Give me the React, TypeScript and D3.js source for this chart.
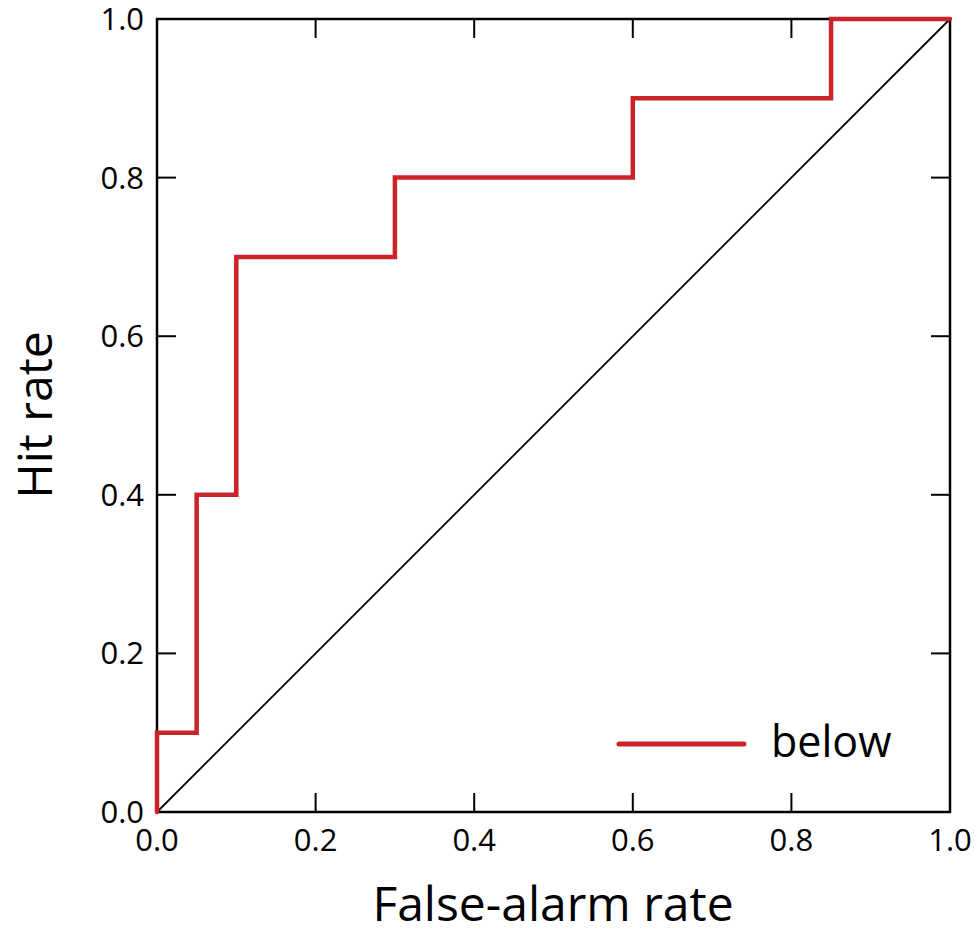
import React from "react";
import * as d3 from "d3";

const rocX = [0, 0, 0.05, 0.05, 0.1, 0.1, 0.3, 0.3, 0.6, 0.6, 0.85, 0.85, 1.0];
const rocY = [0, 0.1, 0.1, 0.4, 0.4, 0.7, 0.7, 0.8, 0.8, 0.9, 0.9, 1.0, 1.0];
const tickValues = [0, 0.2, 0.4, 0.6, 0.8, 1.0];
const seriesName = "below";
const xTitle = "False-alarm rate";
const yTitle = "Hit rate";

const W = 977;
const H = 929;
const L = 157, R = 950, T = 19, B = 812;
const FONT = "'Open Sans', 'Noto Sans', sans-serif";
const RED = "#cc2229";

export default function App() {
  const x = d3.scaleLinear().domain([0, 1]).range([L, R]);
  const y = d3.scaleLinear().domain([0, 1]).range([B, T]);
  const pts: [number, number][] = rocX.map((v, i) => [v, rocY[i]]);
  const line = d3.line<[number, number]>().x((d) => x(d[0])).y((d) => y(d[1]));
  const tl = 19;
  const inner = tickValues.filter((t) => t > 0 && t < 1);
  return (
    <svg width={W} height={H} style={{ position: "absolute", left: 0, top: 0 }}>
      <rect x={0} y={0} width={W} height={H} fill="#fff" />
      {/* diagonal */}
      <line x1={x(0)} y1={y(0)} x2={x(1)} y2={y(1)} stroke="#000" strokeWidth={1.8} />
      {/* ticks */}
      {inner.map((t) => (
        <g key={"t" + t} stroke="#000" strokeWidth={2}>
          <line x1={x(t)} x2={x(t)} y1={B} y2={B - tl} />
          <line x1={x(t)} x2={x(t)} y1={T} y2={T + tl} />
          <line x1={L} x2={L + tl} y1={y(t)} y2={y(t)} />
          <line x1={R} x2={R - tl} y1={y(t)} y2={y(t)} />
        </g>
      ))}
      {/* frame */}
      <rect x={L} y={T} width={R - L} height={B - T} fill="none" stroke="#000" strokeWidth={2.5} />
      {/* ROC */}
      <path d={line(pts) || ""} fill="none" stroke={RED} strokeWidth={4.5} strokeLinejoin="miter" strokeLinecap="round" />
      {/* tick labels */}
      {tickValues.map((t) => (
        <text key={"xl" + t} x={x(t)} y={851} textAnchor="middle" fontFamily={FONT} fontSize={31} fill="#000">
          {t.toFixed(1)}
        </text>
      ))}
      {tickValues.map((t) => (
        <text key={"yl" + t} x={144} y={y(t) + 11} textAnchor="end" fontFamily={FONT} fontSize={31} fill="#000">
          {t.toFixed(1)}
        </text>
      ))}
      {/* titles */}
      <text x={553} y={921} textAnchor="middle" fontFamily={FONT} fontSize={48} fill="#000">
        {xTitle}
      </text>
      <text transform={`translate(52,415) rotate(-90)`} textAnchor="middle" fontFamily={FONT} fontSize={48} fill="#000">
        {yTitle}
      </text>
      {/* legend */}
      <line x1={619} x2={744} y1={744} y2={744} stroke={RED} strokeWidth={5} strokeLinecap="round" />
      <text x={771} y={757} fontFamily={FONT} fontSize={43} fill="#000">
        {seriesName}
      </text>
    </svg>
  );
}
